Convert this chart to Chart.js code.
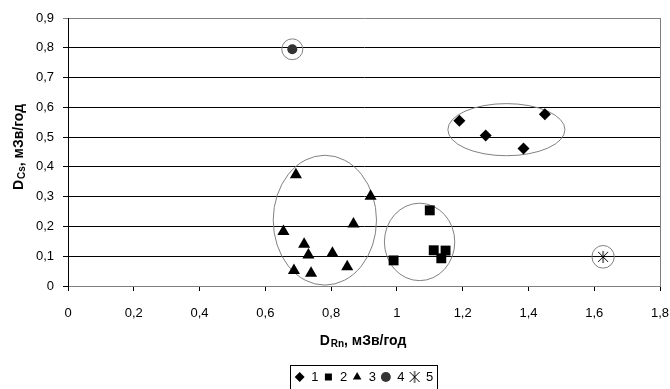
<!DOCTYPE html>
<html>
<head>
<meta charset="utf-8">
<script src="https://cdn.jsdelivr.net/npm/chart.js@4/dist/chart.umd.min.js"></script>
<style>
html, body { margin: 0; padding: 0; background: #fff; }
</style>
</head>
<body>
<canvas id="canvas" width="670" height="389"></canvas>
<script>

// series 1..5 (D_Rn, D_Cs)
let group1X = [1.19, 1.27, 1.385, 1.45];
let group1Y = [0.555, 0.505, 0.462, 0.577];
let group2X = [0.99, 1.10, 1.112, 1.148, 1.135];
let group2Y = [0.086, 0.254, 0.12, 0.119, 0.093];
let group3X = [0.693, 0.92, 0.655, 0.868, 0.718, 0.731, 0.804, 0.849, 0.687, 0.739];
let group3Y = [0.374, 0.301, 0.183, 0.208, 0.14, 0.104, 0.11, 0.065, 0.052, 0.043];
let group4X = [0.682];
let group4Y = [0.795];
let group5X = [1.627];
let group5Y = [0.098];

let seriesLabels = ['1', '2', '3', '4', '5'];
let xTicks = [0, 0.2, 0.4, 0.6, 0.8, 1, 1.2, 1.4, 1.6, 1.8];
let yTicks = [0, 0.1, 0.2, 0.3, 0.4, 0.5, 0.6, 0.7, 0.8, 0.9];

// cluster outlines (centre and half-axes, in axis units)
let ringCx = [1.333, 0.781, 1.069, 0.682, 1.627];
let ringCy = [0.525, 0.221, 0.148, 0.795, 0.098];
let ringRx = [0.178, 0.157, 0.107, 0.032, 0.034];
let ringRy = [0.0875, 0.218, 0.130, 0.035, 0.038];

const FONT = '"Liberation Sans", Arial, sans-serif';

function toPoints(xs, ys) {
    let pts = [];
    for (let i = 0; i < xs.length; i++) {
        pts.push({x: xs[i], y: ys[i]});
    }
    return pts;
}

function fmt(v) {
    return String(Math.round(v * 10) / 10).replace('.', ',');
}

// marker for series 5: a cross with a vertical bar
function makeStar(size) {
    let c = document.createElement('canvas');
    c.width = size;
    c.height = size;
    let g = c.getContext('2d');
    g.strokeStyle = '#000';
    g.lineWidth = 1;
    g.beginPath();
    g.moveTo(1, 1); g.lineTo(size - 1, size - 1);
    g.moveTo(size - 1, 1); g.lineTo(1, size - 1);
    g.moveTo(size / 2, 0); g.lineTo(size / 2, size);
    g.stroke();
    return c;
}

function drawTitle(ctx, x, y, main, sub, rest) {
    ctx.textAlign = 'left';
    ctx.textBaseline = 'alphabetic';
    ctx.font = 'bold 14px ' + FONT;
    let w1 = ctx.measureText(main).width;
    let w3 = ctx.measureText(rest).width;
    ctx.font = 'bold 10px ' + FONT;
    let w2 = ctx.measureText(sub).width + 1;
    let sx = x - (w1 + w2 + w3) / 2;
    ctx.font = 'bold 14px ' + FONT;
    ctx.fillText(main, sx, y);
    ctx.font = 'bold 10px ' + FONT;
    ctx.fillText(sub, sx + w1 + 1, y + 2);
    ctx.font = 'bold 14px ' + FONT;
    ctx.fillText(rest, sx + w1 + w2, y);
}

let extras = {
    id: 'extras',
    afterLayout(chart) {
        // centre the legend under the plot area
        chart.legend.left = chart.chartArea.left;
        chart.legend.right = chart.chartArea.right;
    },
    beforeDatasetsDraw(chart) {
        let ctx = chart.ctx;
        let xs = chart.scales.x, ys = chart.scales.y;
        let area = chart.chartArea;
        ctx.save();
        ctx.strokeStyle = '#808080';
        ctx.lineWidth = 1;
        ctx.beginPath();
        ctx.moveTo(Math.round(area.right) + 0.5, area.top);
        ctx.lineTo(Math.round(area.right) + 0.5, area.bottom);
        ctx.stroke();
        for (let i = 0; i < ringCx.length; i++) {
            let cx = xs.getPixelForValue(ringCx[i]);
            let cy = ys.getPixelForValue(ringCy[i]);
            let rx = Math.abs(xs.getPixelForValue(ringCx[i] + ringRx[i]) - cx);
            let ry = Math.abs(ys.getPixelForValue(ringCy[i] + ringRy[i]) - cy);
            ctx.beginPath();
            ctx.ellipse(cx, cy, rx, ry, 0, 0, Math.PI * 2);
            ctx.stroke();
        }
        ctx.restore();
    },
    afterDraw(chart) {
        let ctx = chart.ctx;
        ctx.save();
        ctx.fillStyle = '#000';
        drawTitle(ctx, 363, 345, 'D', 'Rn', ', мЗв/год');
        ctx.translate(23, 147);
        ctx.rotate(-Math.PI / 2);
        drawTitle(ctx, 0, 0, 'D', 'Cs', ', мЗв/год');
        ctx.restore();

        // frame round the legend
        let boxes = chart.legend.legendHitBoxes;
        if (boxes && boxes.length) {
            let first = boxes[0], last = boxes[boxes.length - 1];
            let l = Math.round(first.left - 5) + 0.5;
            let r = Math.round(last.left + last.width + 4) + 0.5;
            ctx.save();
            ctx.strokeStyle = '#000';
            ctx.lineWidth = 1;
            ctx.strokeRect(l, 365.5, r - l, 30);
            ctx.restore();
        }
    }
};

let options = {
    type: 'scatter',
    data: {
        datasets: [{
            label: seriesLabels[0],
            data: toPoints(group1X, group1Y),
            pointStyle: 'rectRot',
            pointRadius: 6,
            backgroundColor: '#000',
            borderColor: '#000',
            borderWidth: 0
        }, {
            label: seriesLabels[1],
            data: toPoints(group2X, group2Y),
            pointStyle: 'rect',
            pointRadius: 7,
            backgroundColor: '#000',
            borderColor: '#000',
            borderWidth: 0
        }, {
            label: seriesLabels[2],
            data: toPoints(group3X, group3Y),
            pointStyle: 'triangle',
            pointRadius: 7,
            backgroundColor: '#000',
            borderColor: '#000',
            borderWidth: 0
        }, {
            label: seriesLabels[3],
            data: toPoints(group4X, group4Y),
            pointStyle: 'circle',
            pointRadius: 5,
            backgroundColor: '#333',
            borderColor: '#333',
            borderWidth: 0
        }, {
            label: seriesLabels[4],
            data: toPoints(group5X, group5Y),
            pointStyle: makeStar(12),
            pointRadius: 6,
            backgroundColor: '#000',
            borderColor: '#000',
            borderWidth: 1
        }]
    },
    options: {
        responsive: false,
        animation: false,
        layout: {
            padding: {left: 0, right: 10, top: 18, bottom: -4.5}
        },
        plugins: {
            tooltip: {enabled: false},
            legend: {
                position: 'bottom',
                labels: {
                    usePointStyle: true,
                    boxWidth: 10,
                    boxHeight: 7,
                    padding: 5,
                    color: '#000',
                    font: {family: FONT, size: 13}
                }
            }
        },
        scales: {
            x: {
                type: 'linear',
                min: 0,
                max: 1.8,
                afterBuildTicks: s => { s.ticks = xTicks.map(v => ({value: v})); },
                afterFit: s => {
                    s.height = 79.5;
                    s.paddingLeft = 0;
                    s.paddingRight = 0;
                },
                grid: {
                    drawOnChartArea: false,
                    drawTicks: true,
                    tickLength: 5,
                    color: '#000'
                },
                border: {display: true, color: '#808080'},
                ticks: {
                    padding: 15,
                    maxRotation: 0,
                    color: '#000',
                    font: {family: FONT, size: 13},
                    callback: v => fmt(v)
                }
            },
            y: {
                type: 'linear',
                min: 0,
                max: 0.9,
                afterBuildTicks: s => { s.ticks = yTicks.map(v => ({value: v})); },
                afterFit: s => { s.width = 68; },
                grid: {
                    drawTicks: true,
                    tickLength: 5,
                    color: c => (c.tick && c.tick.value === 0.9) ? '#808080' : '#000'
                },
                border: {display: true, color: '#000'},
                ticks: {
                    padding: 9,
                    color: '#000',
                    font: {family: FONT, size: 13},
                    callback: v => fmt(v)
                }
            }
        }
    },
    plugins: [extras]
};

let chart = new Chart(document.getElementById('canvas'), options);

</script>
</body>
</html>
